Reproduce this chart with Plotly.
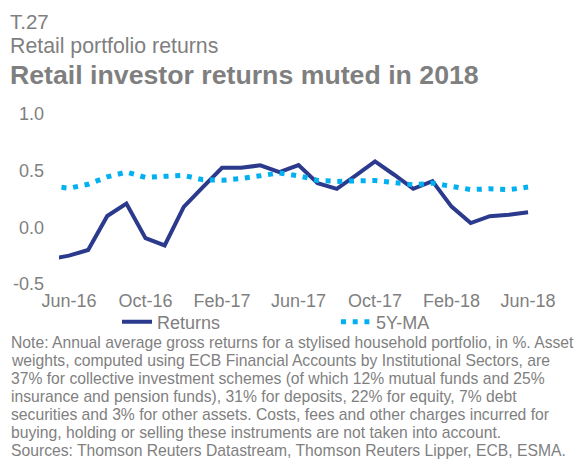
import plotly.graph_objects as go

# ---- data ----
months = ["May-16", "Jun-16", "Jul-16", "Aug-16", "Sep-16", "Oct-16", "Nov-16", "Dec-16",
          "Jan-17", "Feb-17", "Mar-17", "Apr-17", "May-17", "Jun-17", "Jul-17", "Aug-17",
          "Sep-17", "Oct-17", "Nov-17", "Dec-17", "Jan-18", "Feb-18", "Mar-18", "Apr-18",
          "May-18", "Jun-18"]
returns = [-0.28, -0.25, -0.20, 0.10, 0.21, -0.095, -0.16, 0.18,
           0.355, 0.526, 0.526, 0.547, 0.488, 0.55, 0.39, 0.34,
           0.458, 0.582, 0.464, 0.34, 0.408, 0.183, 0.038, 0.098,
           0.112, 0.133]
ma5y = [0.365, 0.345, 0.38, 0.445, 0.488, 0.44, 0.45, 0.458,
        0.42, 0.415, 0.43, 0.452, 0.48, 0.455, 0.414, 0.405,
        0.414, 0.414, 0.395, 0.375, 0.39, 0.36, 0.333, 0.34,
        0.332, 0.355]
x_ticks = ["Jun-16", "Oct-16", "Feb-17", "Jun-17", "Oct-17", "Feb-18", "Jun-18"]
y_ticks = [-0.5, 0.0, 0.5, 1.0]
y_tick_text = ["-0.5", "0.0", "0.5", "1.0"]

note_lines = [
    "Note: Annual average gross returns for a stylised household portfolio, in %. Asset",
    "weights, computed using ECB Financial Accounts by Institutional Sectors, are",
    "37% for collective investment schemes (of which 12% mutual funds and 25%",
    "insurance and pension funds), 31% for deposits, 22% for equity, 7% debt",
    "securities and 3% for other assets. Costs, fees and other charges incurred for",
    "buying, holding or selling these instruments are not taken into account.",
    "Sources: Thomson Reuters Datastream, Thomson Reuters Lipper, ECB, ESMA.",
]

# ---- layout helpers ----
# the page body has an 8px margin, so the figure is drawn 8px smaller and all
# reference pixel positions are shifted by OFF
OFF = 8
W, H = 583 - OFF, 459 - OFF
L, T = 59 - OFF, 114 - OFF
PR, PB = 560 - OFF, 284 - OFF
R, B = W - PR, H - PB
PW, PH = PR - L, PB - T
FONT = "Liberation Sans, Arial, sans-serif"
GREY = "#7f7f7f"


def ax(x):
    return (x - OFF - L) / PW


def ay(y):
    return (PB - (y - OFF)) / PH


def cx(x):
    return (x - OFF) / W


def cy(y):
    return 1 - (y - OFF) / H


fig = go.Figure()
fig.add_trace(go.Scatter(x=months, y=returns, name="Returns", mode="lines",
                         line=dict(color="#2b3a8c", width=4)))
fig.add_trace(go.Scatter(x=months, y=ma5y, name="5Y-MA", mode="lines",
                         line=dict(color="#00b0f0", width=5, dash="5px,6.7px")))

fig.update_layout(
    width=W, height=H,
    margin=dict(l=L, r=R, t=T, b=B, pad=0, autoexpand=False),
    paper_bgcolor="white", plot_bgcolor="white",
    font=dict(family=FONT, color=GREY, size=18),
    showlegend=True,
    legend=dict(orientation="h", xref="container", yref="container",
                x=cx(117), xanchor="left", y=cy(322), yanchor="middle",
                font=dict(size=18, color=GREY), entrywidth=174, entrywidthmode="pixels",
                bgcolor="rgba(0,0,0,0)"),
    xaxis=dict(type="category", range=[0.477, 26.67], tickmode="array", tickvals=x_ticks,
               showgrid=False, zeroline=False, showline=False, ticks="",
               ticklabelstandoff=4, tickfont=dict(size=18, color=GREY)),
    yaxis=dict(range=[-0.5, 1.0], tickmode="array", tickvals=y_ticks, ticktext=y_tick_text,
               showgrid=False, zeroline=False, showline=False, ticks="",
               ticklabelstandoff=14, tickfont=dict(size=18, color=GREY)),
)

anns = [
    dict(text="T.27", x=8, y=21.5, size=20.5),
    dict(text="Retail portfolio returns", x=8, y=46, size=21.3),
    dict(text="<b>Retail investor returns muted in 2018</b>", x=8, y=75, size=26.7),
]
for a in anns:
    fig.add_annotation(text=a["text"], x=ax(a["x"]), y=ay(a["y"]), xref="paper", yref="paper",
                       xanchor="left", yanchor="middle", showarrow=False,
                       font=dict(family=FONT, size=a["size"], color=GREY))

for i, line in enumerate(note_lines):
    fig.add_annotation(text=line, x=ax(9), y=ay(342 + 18 * i), xref="paper", yref="paper",
                       xanchor="left", yanchor="middle", showarrow=False,
                       font=dict(family=FONT, size=15.7, color=GREY))

fig.write_html("out.html")
